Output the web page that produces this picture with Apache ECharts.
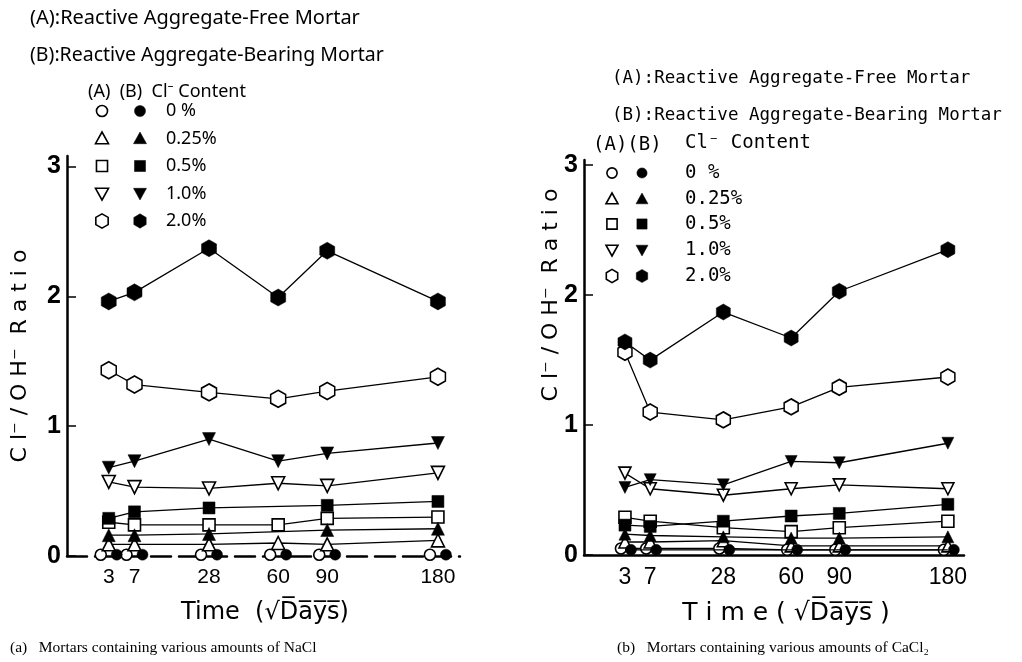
<!DOCTYPE html>
<html><head><meta charset="utf-8">
<script src="https://cdn.jsdelivr.net/npm/echarts@6/dist/echarts.min.js"></script>
<style>html,body{margin:0;padding:0;background:#fff}#c{width:1022px;height:662px}</style>
</head><body><div id="c"></div>
<script>
// ---- data ----
const days = [3, 7, 28, 60, 90, 180];
const contentLabels = ['0 %', '0.25%', '0.5%', '1.0%', '2.0%'];
const yTicks = [0, 1, 2, 3];
// (a) NaCl : A = reactive aggregate-free, B = reactive aggregate-bearing
const nacl_A_0   = [0.01, 0.01, 0.01, 0.01, 0.01, 0.01];
const nacl_B_0   = [0.01, 0.01, 0.01, 0.01, 0.01, 0.01];
const nacl_A_025 = [0.09, 0.09, 0.09, 0.10, 0.09, 0.12];
const nacl_B_025 = [0.16, 0.16, 0.17, null, 0.20, 0.21];
const nacl_A_05  = [0.26, 0.24, 0.24, 0.24, 0.29, 0.30];
const nacl_B_05  = [0.29, 0.34, 0.37, null, 0.39, 0.42];
const nacl_A_1   = [0.57, 0.53, 0.52, 0.56, 0.54, 0.64];
const nacl_B_1   = [0.68, 0.73, 0.90, 0.73, 0.79, 0.87];
const nacl_A_2   = [1.43, 1.32, 1.26, 1.21, 1.27, 1.38];
const nacl_B_2   = [1.96, 2.03, 2.37, 1.99, 2.35, 1.96];
// (b) CaCl2
const cacl_A_0   = [0.05, 0.05, 0.05, 0.04, 0.04, 0.04];
const cacl_B_0   = [0.04, 0.04, 0.04, 0.04, 0.04, 0.04];
const cacl_A_025 = [0.10, 0.10, 0.11, 0.07, 0.07, 0.07];
const cacl_B_025 = [0.16, 0.15, 0.14, 0.13, 0.13, 0.14];
const cacl_A_05  = [0.29, 0.26, 0.21, 0.18, 0.21, 0.26];
const cacl_B_05  = [0.23, 0.22, 0.26, 0.30, 0.32, 0.39];
const cacl_A_1   = [0.63, 0.51, 0.46, 0.51, 0.54, 0.51];
const cacl_B_1   = [0.52, 0.58, 0.54, 0.72, 0.71, 0.86];
const cacl_A_2   = [1.56, 1.10, 1.04, 1.14, 1.29, 1.37];
const cacl_B_2   = [1.64, 1.50, 1.87, 1.67, 2.03, 2.35];

// ---- styling helpers ----
const HEX = 'path://M0,-10L8.66,-5L8.66,5L0,10L-8.66,5L-8.66,-5Z';
const kinds = ['circle', 'tri', 'square', 'dtri', 'hex'];
function symOf(k) { return k === 'circle' ? 'circle' : k === 'square' ? 'rect' : k === 'hex' ? HEX : 'triangle'; }
const sizeL = { circle: 11, tri: 13, square: 12, dtri: 13, hex: [15, 17] };
const sizeR = { circle: 11, tri: 12, square: 12, dtri: 12, hex: [14, 16] };

function mk(panel, name, kind, filled, vals, showLine, offs) {
  const sz = panel === 0 ? sizeL : sizeR;
  return {
    type: 'line', name: name, xAxisIndex: panel, yAxisIndex: panel,
    data: days.map((d, i) => [Math.sqrt(d), vals[i]]),
    symbol: symOf(kind), symbolSize: sz[kind], symbolRotate: kind === 'dtri' ? 180 : 0,
    symbolOffset: offs || [0, 0], showAllSymbol: true, connectNulls: true,
    itemStyle: filled ? { color: '#000', borderColor: '#000', borderWidth: 0.5 } : { color: '#fff', borderColor: '#000', borderWidth: 1.6 },
    lineStyle: { color: '#000', width: showLine ? 1.3 : 0, opacity: showLine ? 1 : 0 },
    z: filled ? 4 : 3, silent: true, animation: false
  };
}

const series = [
  mk(0, 'a-A-0', 'circle', false, nacl_A_0, false, [-8, 0]),
  mk(0, 'a-B-0', 'circle', true, nacl_B_0, false, [8, 0]),
  mk(0, 'a-A-025', 'tri', false, nacl_A_025, true),
  mk(0, 'a-B-025', 'tri', true, nacl_B_025, true),
  mk(0, 'a-A-05', 'square', false, nacl_A_05, true),
  mk(0, 'a-B-05', 'square', true, nacl_B_05, true),
  mk(0, 'a-A-1', 'dtri', false, nacl_A_1, true),
  mk(0, 'a-B-1', 'dtri', true, nacl_B_1, true),
  mk(0, 'a-A-2', 'hex', false, nacl_A_2, true),
  mk(0, 'a-B-2', 'hex', true, nacl_B_2, true),
  mk(1, 'b-A-0', 'circle', false, cacl_A_0, true, [-4, 0]),
  mk(1, 'b-B-0', 'circle', true, cacl_B_0, true, [6, 0]),
  mk(1, 'b-A-025', 'tri', false, cacl_A_025, true),
  mk(1, 'b-B-025', 'tri', true, cacl_B_025, true),
  mk(1, 'b-A-05', 'square', false, cacl_A_05, true),
  mk(1, 'b-B-05', 'square', true, cacl_B_05, true),
  mk(1, 'b-A-1', 'dtri', false, cacl_A_1, true),
  mk(1, 'b-B-1', 'dtri', true, cacl_B_1, true),
  mk(1, 'b-A-2', 'hex', false, cacl_A_2, true),
  mk(1, 'b-B-2', 'hex', true, cacl_B_2, true)
];

const sqrtDays = days.map(d => Math.sqrt(d));
function xAx(idx, min, max, dashed, fs) {
  return {
    type: 'value', gridIndex: idx, min: min, max: max,
    axisLine: { show: true, onZero: false, lineStyle: { color: '#000', width: 2.5, type: dashed ? [20, 8] : 'solid' } },
    axisTick: { show: false }, splitLine: { show: false },
    axisLabel: { customValues: sqrtDays, color: '#000', fontSize: fs, fontFamily: 'Liberation Sans', margin: 11,
      formatter: v => String(Math.round(v * v)) }
  };
}
function yAx(idx, max) {
  return {
    type: 'value', gridIndex: idx, min: 0, max: max, interval: 1,
    axisLine: { show: true, lineStyle: { color: '#000', width: 2.5 } },
    axisTick: { show: true, inside: true, length: 9, customValues: yTicks, lineStyle: { color: '#000', width: 1.5 } },
    splitLine: { show: false },
    axisLabel: { customValues: yTicks, color: '#000', fontSize: 25, fontWeight: 'bold', fontFamily: 'Liberation Sans', margin: 6 }
  };
}

// ---- legend drawn as graphic ----
function gSym(x, y, kind, filled, s) {
  const st = filled ? { fill: '#000', stroke: '#000', lineWidth: 0.5 } : { fill: '#fff', stroke: '#000', lineWidth: 1.6 };
  const r = s / 2;
  if (kind === 'circle') return { type: 'circle', shape: { cx: x, cy: y, r: r * 0.85 }, style: st };
  if (kind === 'square') return { type: 'rect', shape: { x: x - r * 0.85, y: y - r * 0.85, width: r * 1.7, height: r * 1.7 }, style: st };
  if (kind === 'tri') return { type: 'polygon', shape: { points: [[x, y - r], [x + r, y + r * 0.8], [x - r, y + r * 0.8]] }, style: st };
  if (kind === 'dtri') return { type: 'polygon', shape: { points: [[x, y + r], [x + r, y - r * 0.8], [x - r, y - r * 0.8]] }, style: st };
  const h = r * 1.1, w = r * 0.95;
  return { type: 'polygon', shape: { points: [[x, y - h], [x + w, y - h / 2], [x + w, y + h / 2], [x, y + h], [x - w, y + h / 2], [x - w, y - h / 2]] }, style: st };
}
function txt(x, y, t, font, align, rot) {
  return { type: 'text', x: x, y: y, rotation: rot || 0, silent: true,
    style: { text: t, font: font, fill: '#000', align: align || 'left', verticalAlign: 'middle' } };
}

const graphics = [];
// left panel texts
graphics.push(txt(30, 18, '(A):Reactive Aggregate-Free Mortar', '20px "Noto Sans"'));
graphics.push(txt(30, 55, '(B):Reactive Aggregate-Bearing Mortar', '19.5px "Noto Sans"'));
graphics.push(txt(88, 92, '(A)  (B)  Cl\u207B Content', '18px "Noto Sans"'));
const rowsL = [111, 138.5, 166, 193.5, 221];
kinds.forEach((k, i) => {
  graphics.push(gSym(102, rowsL[i], k, false, 13));
  graphics.push(gSym(140, rowsL[i], k, true, 13));
  graphics.push(txt(166, rowsL[i], contentLabels[i], '18px "Noto Sans"'));
});
graphics.push(txt(20, 356, 'C l\u207B / O H\u207B  R a t i o', '22px "DejaVu Sans"', 'center', Math.PI / 2));
graphics.push(txt(265, 613, 'Time  (\u221AD\u0305a\u0305y\u0305s\u0305)', '24px "DejaVu Sans"', 'center'));
graphics.push(txt(10, 648, '(a)   Mortars containing various amounts of NaCl', '15.5px "Liberation Serif"'));
// right panel texts
const fR = '17.5px "DejaVu Sans Mono"';
graphics.push(txt(612, 78, '(A):Reactive Aggregate-Free Mortar', fR));
graphics.push(txt(612, 115, '(B):Reactive Aggregate-Bearing Mortar', fR));
graphics.push(txt(593, 145, '(A)(B)', '19px "DejaVu Sans Mono"'));
graphics.push(txt(685, 143, 'Cl\u207B Content', '19px "DejaVu Sans Mono"'));
const rowsR = [173, 199, 224, 250, 276];
kinds.forEach((k, i) => {
  graphics.push(gSym(612, rowsR[i], k, false, 12));
  graphics.push(gSym(642, rowsR[i], k, true, 12));
  graphics.push(txt(685, rowsR[i], contentLabels[i], '19px "DejaVu Sans Mono"'));
});
graphics.push(txt(551, 295, 'C l\u207B / O H\u207B  R a t i o', '22px "DejaVu Sans"', 'center', Math.PI / 2));
graphics.push(txt(786, 613, 'T i m e ( \u221AD\u0305a\u0305y\u0305s\u0305 )', '25px "DejaVu Sans"', 'center'));
graphics.push(txt(617, 648, '(b)   Mortars containing various amounts of CaCl\u2082', '15.5px "Liberation Serif"'));

const chart = echarts.init(document.getElementById('c'), null, { renderer: 'canvas' });
chart.setOption({
  animation: false,
  backgroundColor: '#fff',
  grid: [
    { left: 67, top: 156, width: 393, height: 400 },
    { left: 584, top: 160, width: 380, height: 395 }
  ],
  xAxis: [xAx(0, 0.25, 14.2, true, 21), xAx(1, 0.25, 14.0, false, 23)],
  yAxis: [yAx(0, 3.08), yAx(1, 3.04)],
  series: series,
  graphic: { elements: graphics }
});
</script></body></html>
